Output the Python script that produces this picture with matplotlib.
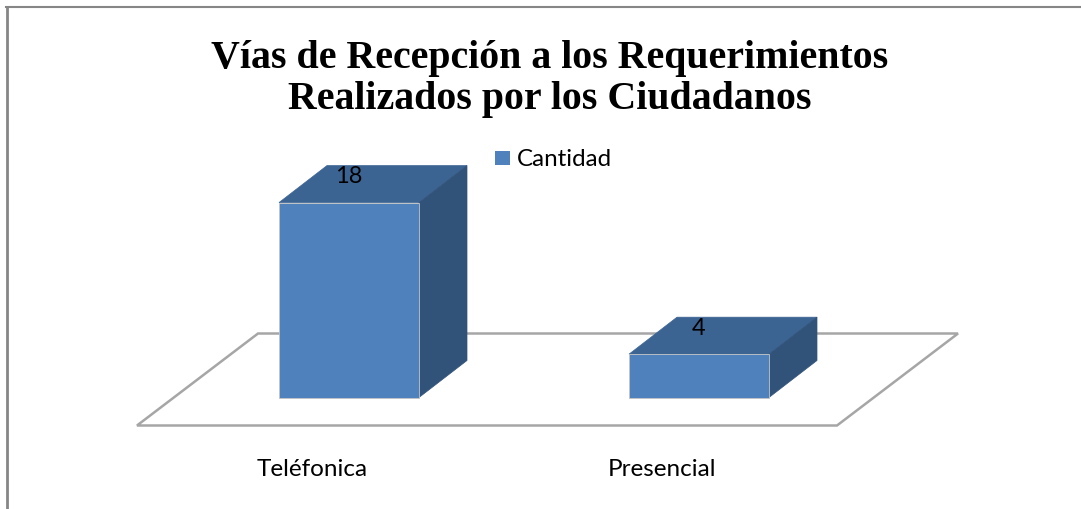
# Vias de recepcion: barras con efecto 3D dibujadas a mano
import numpy as np
import matplotlib
matplotlib.use("Agg")
import matplotlib.pyplot as plt
from matplotlib.patches import Polygon, Rectangle

categorias = ["Teléfonica", "Presencial"]
cantidad = [18, 4]
titulo = "Vías de Recepción a los Requerimientos\nRealizados por los Ciudadanos"
serie = "Cantidad"

W, H = 1081, 510
PX_X = 350.0      # pixeles por categoria
PX_Y = 10.83      # pixeles por unidad
X0, Y0 = 349, 398.5  # pixel de (categoria 0, valor 0)

FRONT = "#4f81bd"
TOP = "#3c6493"
SIDE = "#325379"
GRIS = "#a6a6a6"

fig = plt.figure(figsize=(W / 100, H / 100), dpi=100)
ax = fig.add_axes([0, 0, 1, 1])
ax.set_xlim(-X0 / PX_X, (W - X0) / PX_X)
ax.set_ylim((Y0 - H) / PX_Y, Y0 / PX_Y)
ax.axis("off")

ancho = 140 / PX_X
dx = 48 / PX_X
dy = 37 / PX_Y

# borde del grafico
fig.add_artist(plt.Line2D([7.0 / W, 7.0 / W], [0, 1 - 7.5 / H], color="#868686", lw=2.0))
fig.add_artist(plt.Line2D([6.0 / W, 1], [1 - 7.5 / H, 1 - 7.5 / H], color="#868686", lw=1.5))

# suelo
izq = (137 - X0) / PX_X
suelo_y = -28 / PX_Y
suelo_dx = 121 / PX_X
suelo_dy = 92 / PX_Y
ax.add_patch(Polygon([(izq, suelo_y), (izq + suelo_dx, suelo_y + suelo_dy),
                      (izq + suelo_dx + 2.0, suelo_y + suelo_dy), (izq + 2.0, suelo_y)],
                     closed=True, facecolor="white", edgecolor=GRIS, lw=1.8, zorder=1))

# barras
x = np.arange(len(categorias))
ax.bar(x, cantidad, width=ancho, color=FRONT, edgecolor="#c4c4c4", lw=0.6, zorder=3)
for xi, v in zip(x, cantidad):
    l, r = xi - ancho / 2, xi + ancho / 2
    ax.add_patch(Polygon([(l, v), (l + dx, v + dy), (r + dx, v + dy), (r, v)],
                         closed=True, facecolor=TOP, edgecolor=TOP, lw=0.5, zorder=2))
    ax.add_patch(Polygon([(r, 0), (r + dx, dy), (r + dx, v + dy), (r, v)],
                         closed=True, facecolor=SIDE, edgecolor=SIDE, lw=0.5, zorder=2))
    ax.text(xi, v + dy - 10 / PX_Y, str(v), ha="center", va="center", fontsize=17,
            family="Lato", color="black", zorder=4)
    ax.text(xi - 36.5 / PX_X, -71 / PX_Y, categorias[xi],
            ha="center", va="center", fontsize=17.5, family="Lato", color="black")

# titulo
ax.text((550 - X0) / PX_X, (Y0 - 79) / PX_Y, titulo, ha="center", va="center",
        fontsize=28.7, fontweight="bold", family="Liberation Serif", linespacing=1.12)

# leyenda
ax.add_patch(Rectangle(((495 - X0) / PX_X, (Y0 - 166) / PX_Y), 15 / PX_X, 14 / PX_Y,
                       facecolor=FRONT, edgecolor="none"))
ax.text((517 - X0) / PX_X, (Y0 - 160) / PX_Y, serie, ha="left", va="center",
        fontsize=17.4, family="Lato")

fig.savefig("out.png", dpi=100)
